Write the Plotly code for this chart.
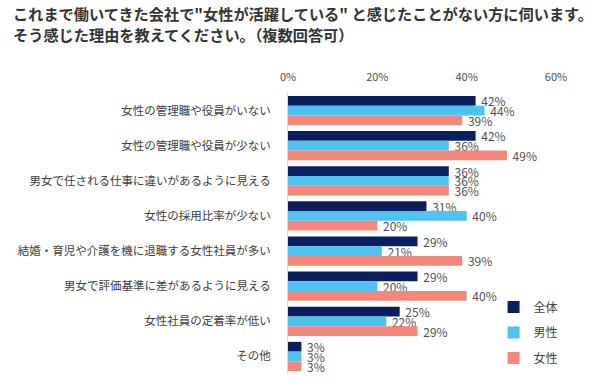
import plotly.graph_objects as go

categories = [
    "女性の管理職や役員がいない",
    "女性の管理職や役員が少ない",
    "男女で任される仕事に違いがあるように見える",
    "女性の採用比率が少ない",
    "結婚・育児や介護を機に退職する女性社員が多い",
    "男女で評価基準に差があるように見える",
    "女性社員の定着率が低い",
    "その他",
]
total = [42, 42, 36, 31, 29, 29, 25, 3]
male = [44, 36, 36, 40, 21, 20, 22, 3]
female = [39, 49, 36, 20, 39, 40, 29, 3]
series_names = ["全体", "男性", "女性"]
tick_vals = [0, 20, 40, 60]
tick_text = ["0%", "20%", "40%", "60%"]
title_lines = [
    "これまで働いてきた会社で\"女性が活躍している\" と感じたことがない方に伺います。",
    "そう感じた理由を教えてください。（複数回答可）",
]

colors = ["#0B1F5E", "#4EC3F0", "#F2877A"]
FONT = "Noto Sans CJK JP"

fig = go.Figure()
for i, (name, vals) in enumerate(zip(series_names, [total, male, female])):
    fig.add_trace(go.Bar(
        y=categories, x=vals, name=name, orientation="h",
        marker=dict(color=colors[i], line=dict(width=0)),
        text=[f"{v}%" for v in vals], texttemplate=" %{text}",
        textposition="outside",
        textfont=dict(size=12, color="#505050", family=FONT),
        cliponaxis=False, legendgroup=name,
    ))

fig.update_layout(
    width=600, height=387,
    margin=dict(l=288, r=44, t=93, b=13, autoexpand=False),
    paper_bgcolor="white", plot_bgcolor="white",
    barmode="group", bargap=0.17, bargroupgap=0,
    font=dict(family=FONT, color="#404040"),
    showlegend=True,
    legend=dict(
        x=0.767, y=0.29, xanchor="left", yanchor="top",
        font=dict(size=12, color="#404040", family=FONT),
        traceorder="grouped", tracegroupgap=6.5,
        bgcolor="rgba(0,0,0,0)",
    ),
    xaxis=dict(
        range=[0, 60], side="top", tickvals=tick_vals, ticktext=tick_text,
        showgrid=False, zeroline=False, showline=False, ticks="",
        automargin=False, ticklabelstandoff=9,
        tickfont=dict(size=11, color="#505050", family=FONT),
    ),
    yaxis=dict(
        autorange="reversed", showgrid=False, zeroline=False,
        showline=True, linecolor="#D9D9D9", linewidth=1, ticks="",
        ticklabelstandoff=14, automargin=False,
        tickfont=dict(size=11.5, color="#404040", family=FONT),
    ),
    uniformtext=dict(minsize=12, mode="show"),
)

plot_h = 387 - 93 - 13
for k, line in enumerate(title_lines):
    fig.add_annotation(
        text=f"<b>{line}</b>", xref="paper", yref="paper",
        x=(12 - 288) / 268, xanchor="left",
        y=1 + (93 - (13 + k * 21)) / plot_h, yanchor="middle",
        showarrow=False, borderpad=0,
        font=dict(size=15.2, color="#333333", family=FONT),
    )

fig.write_html(
    "out.html",
    config={"displayModeBar": False},
    post_script="document.body.style.margin='0';",
)
